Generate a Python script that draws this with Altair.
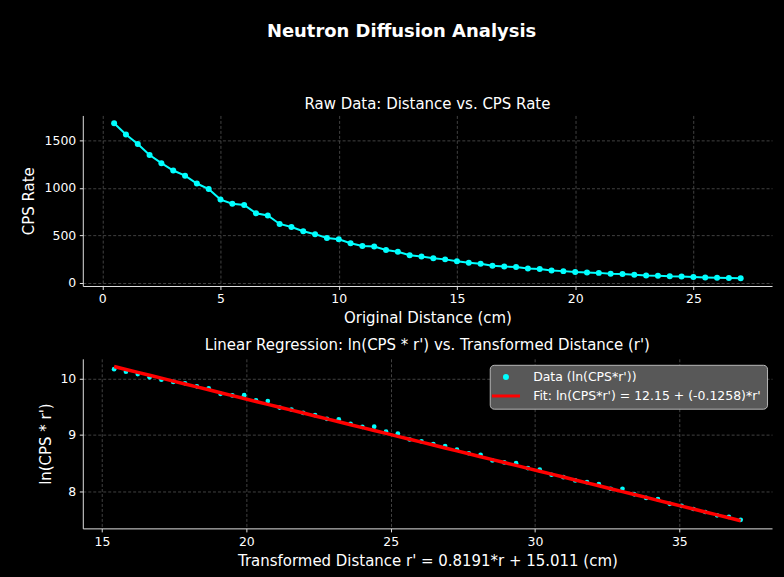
import altair as alt
import numpy as np
import pandas as pd

# ---- data ----
distance_cm = [0.5, 1.0, 1.5, 2.0, 2.5, 3.0, 3.5, 4.0, 4.5, 5.0,
               5.5, 6.0, 6.5, 7.0, 7.5, 8.0, 8.5, 9.0, 9.5, 10.0,
               10.5, 11.0, 11.5, 12.0, 12.5, 13.0, 13.5, 14.0, 14.5, 15.0,
               15.5, 16.0, 16.5, 17.0, 17.5, 18.0, 18.5, 19.0, 19.5, 20.0,
               20.5, 21.0, 21.5, 22.0, 22.5, 23.0, 23.5, 24.0, 24.5, 25.0,
               25.5, 26.0, 26.5, 27.0]

# ln(CPS * r')
ln_cps_rprime = [10.164, 10.117, 10.076, 10.018, 9.977, 9.937, 9.913, 9.860, 9.825, 9.727,
                 9.698, 9.703, 9.611, 9.599, 9.483, 9.448, 9.389, 9.349, 9.284, 9.274,
                 9.197, 9.140, 9.145, 9.058, 9.023, 8.918, 8.883, 8.838, 8.803, 8.738,
                 8.674, 8.646, 8.546, 8.511, 8.499, 8.412, 8.386, 8.293, 8.250, 8.192,
                 8.162, 8.127, 8.045, 8.045, 7.947, 7.883, 7.860, 7.778, 7.743, 7.686,
                 7.633, 7.574, 7.546, 7.494]

r_scale = 0.8191
r_offset = 15.011
fit_intercept = 12.15
fit_slope = -0.1258

data_label = "Data (ln(CPS*r'))"
fit_label = "Fit: ln(CPS*r') = 12.15 + (-0.1258)*r'"

r_prime = [r_scale * d + r_offset for d in distance_cm]
cps = [float(np.exp(v) / rp) for v, rp in zip(ln_cps_rprime, r_prime)]
fit_vals = [fit_intercept + fit_slope * rp for rp in r_prime]

df = pd.DataFrame({"distance": distance_cm, "cps": cps, "r_prime": r_prime,
                   "ln": ln_cps_rprime, "series": data_label})
fit_df = pd.DataFrame({"r_prime": r_prime, "fit": fit_vals, "series": fit_label})


def padded(lo, hi, frac=0.05):
    p = (hi - lo) * frac
    return [lo - p, hi + p]


FONT = "DejaVu Sans"
CYAN = "#00ffff"
RED = "#ff0000"
W = 691

# ---- top panel ----
x_top = alt.X("distance:Q",
              scale=alt.Scale(domain=padded(min(distance_cm), max(distance_cm)), nice=False, zero=False),
              axis=alt.Axis(values=[0, 5, 10, 15, 20, 25], format="d", title="Original Distance (cm)",
                            titlePadding=5))
y_top = alt.Y("cps:Q",
              scale=alt.Scale(domain=padded(min(cps), max(cps)), nice=False, zero=False),
              axis=alt.Axis(values=[0, 500, 1000, 1500], format="d", title="CPS Rate", titlePadding=8))
base_top = alt.Chart(df).encode(x=x_top, y=y_top)
top = alt.layer(
    base_top.mark_line(color=CYAN, strokeWidth=2),
    base_top.mark_circle(color=CYAN, size=36, opacity=1),
).properties(width=W, height=171,
             title=alt.TitleParams("Raw Data: Distance vs. CPS Rate", fontSize=15, fontWeight="normal",
                                   font=FONT, color="white", offset=3))

# ---- bottom panel ----
lo_y = min(min(ln_cps_rprime), min(fit_vals))
hi_y = max(max(ln_cps_rprime), max(fit_vals))
x_bot = alt.X("r_prime:Q",
              scale=alt.Scale(domain=padded(min(r_prime), max(r_prime)), nice=False, zero=False),
              axis=alt.Axis(values=[15, 20, 25, 30, 35], format="d", titlePadding=6,
                            title="Transformed Distance r' = 0.8191*r + 15.011 (cm)"))
y_scale_bot = alt.Scale(domain=padded(lo_y, hi_y), nice=False, zero=False)
y_axis_bot = alt.Axis(values=[8, 9, 10], format="d", title="ln(CPS * r')", titlePadding=6)

is_fit = "indexof(datum.label, 'Fit') === 0"
legend = alt.Legend(
    title=None, orient="none", legendX=408, legendY=6,
    fillColor="#585858", strokeColor="#b8b8b8", cornerRadius=4, padding=6,
    labelColor="white", labelFontSize=12.5, labelFont=FONT, labelLimit=400,
    symbolSize=36, symbolOffset=4, labelOffset=21, rowPadding=6,
    symbolStrokeWidth=0, symbolOpacity=1,
    symbolType={"expr": is_fit + " ? 'M-4.7,-0.5L4.7,-0.5L4.7,0.5L-4.7,0.5Z' : 'circle'"},
    symbolFillColor={"expr": is_fit + " ? '" + RED + "' : '" + CYAN + "'"},
)
color = alt.Color("series:N", scale=alt.Scale(domain=[data_label, fit_label], range=[CYAN, RED]),
                  legend=legend)

pts = alt.Chart(df).mark_circle(size=22, opacity=1).encode(
    x=x_bot, y=alt.Y("ln:Q", scale=y_scale_bot, axis=y_axis_bot), color=color)
fit = alt.Chart(fit_df).mark_line(strokeWidth=3.5).encode(
    x=x_bot, y=alt.Y("fit:Q", scale=y_scale_bot, axis=y_axis_bot), color=color)
bottom = alt.layer(pts, fit).properties(
    width=W, height=170,
    title=alt.TitleParams("Linear Regression: ln(CPS * r') vs. Transformed Distance (r')", fontSize=15,
                          fontWeight="normal", font=FONT, color="white", offset=6))

chart = alt.vconcat(top, bottom, spacing=12).resolve_scale(color="independent").properties(
    title=alt.TitleParams("Neutron Diffusion Analysis", fontSize=18, fontWeight="bold", font=FONT,
                          color="white", anchor="middle", offset=57, dx=5),
    padding={"left": 21, "top": 22, "right": 12, "bottom": 8},
    background="black",
).configure_view(stroke=None, fill="black").configure_axis(
    labelFont=FONT, titleFont=FONT, labelFontSize=12.5, titleFontSize=15, titleFontWeight="normal",
    labelColor="white", titleColor="white", domainColor="#e0e0e0", tickColor="#e0e0e0",
    tickSize=3.5, labelPadding=3.5, titlePadding=4, domainWidth=1,
    gridColor="#505050", gridDash=[3, 2], gridWidth=0.8,
).configure_axisX(grid=True).configure_axisY(grid=True)

chart.save("out.html", embed_options={"renderer": "svg", "actions": False})
